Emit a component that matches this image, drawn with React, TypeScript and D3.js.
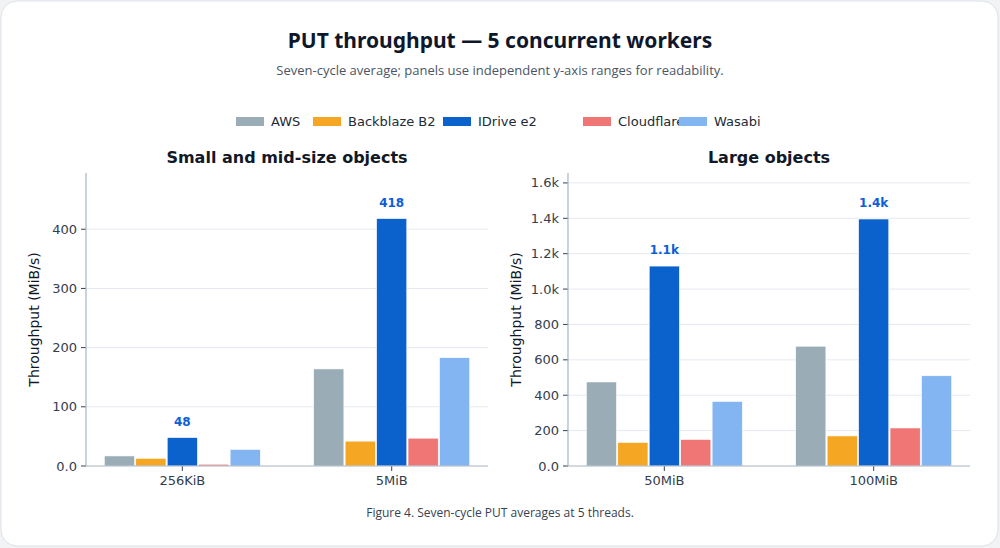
import React from 'react';
import * as d3 from 'd3';

const providers = ['AWS', 'Backblaze B2', 'IDrive e2', 'Cloudflare R2', 'Wasabi'];
const colors = ['#9aacb5', '#f5a623', '#0b62cc', '#f07575', '#83b5f2'];

const smallSizes = ['256KiB', '5MiB'];
const smallValues = [
  [17, 13, 48, 3, 28],
  [164, 42, 418, 47, 183],
];
const largeSizes = ['50MiB', '100MiB'];
const largeValues = [
  [475, 133, 1130, 150, 365],
  [677, 170, 1396, 215, 510],
];
const smallTicks = [0, 100, 200, 300, 400];
const largeTicks = [0, 200, 400, 600, 800, 1000, 1200, 1400, 1600];

const tickFont = 'DejaVu Sans, sans-serif';

function fmtK(v: number) {
  if (v === 0) return '0.0';
  return v >= 1000 ? (v / 1000).toFixed(1) + 'k' : String(v);
}

interface PanelProps {
  title: string;
  sizes: string[];
  values: number[][];
  ticks: number[];
  yMax: number;
  x0: number;
  labelFmt: (v: number) => string;
}

const Panel: React.FC<PanelProps> = ({ title, sizes, values, ticks, yMax, x0, labelFmt }) => {
  const left = x0, right = x0 + 402, top = 173, bottom = 466;
  const y = d3.scaleLinear().domain([0, yMax]).range([bottom, top]);
  const x = d3.scalePoint<string>().domain(sizes).range([left, right]).padding(0.46);
  const inner = d3.scaleBand<number>().domain(d3.range(providers.length)).range([-78, 78]).paddingInner(0.04);
  return (
    <g>
      <text x={(left + right) / 2} y={163} textAnchor="middle" fontFamily={tickFont} fontWeight="bold" fontSize={16} fill="#111827">{title}</text>
      {ticks.map(t => (
        <g key={t}>
          {t > 0 && <line x1={left} x2={right} y1={y(t)} y2={y(t)} stroke="#e5e9ef" strokeWidth={1} />}
          <line x1={left - 5} x2={left} y1={y(t)} y2={y(t)} stroke="#334155" />
          <text x={left - 9} y={y(t)} dy="0.35em" textAnchor="end" fontFamily={tickFont} fontSize={13} fill="#333d4d">{fmtK(t)}</text>
        </g>
      ))}
      <text transform={`translate(${left - 47},${(top + bottom) / 2}) rotate(-90)`} textAnchor="middle" fontFamily={tickFont} fontSize={14} fill="#111827">Throughput (MiB/s)</text>
      {sizes.map((s, gi) => (
        <g key={s}>
          {values[gi].map((v, i) => (
            <rect key={i} x={(x(s) as number) + (inner(i) as number)} y={y(v)} width={inner.bandwidth()} height={bottom - y(v)} fill={colors[i]} stroke="#ffffff" strokeWidth={0.6} />
          ))}
          <text x={(x(s) as number) + (inner(2) as number) + inner.bandwidth() / 2} y={y(values[gi][2]) - 12} textAnchor="middle" fontFamily={tickFont} fontWeight="bold" fontSize={12} fill="#0b5ed7">{labelFmt(values[gi][2])}</text>
          <line x1={x(s)} x2={x(s)} y1={bottom} y2={bottom + 5} stroke="#334155" />
          <text x={x(s)} y={bottom + 19} textAnchor="middle" fontFamily={tickFont} fontSize={13} fill="#333d4d">{s}</text>
        </g>
      ))}
      <line x1={left} x2={left} y1={top} y2={bottom} stroke="#a6b4c4" strokeWidth={1.2} />
      <line x1={left} x2={right} y1={bottom} y2={bottom} stroke="#a6b4c4" strokeWidth={1.2} />
    </g>
  );
};

const legendX = [236, 313, 443, 583, 679];

export default function App() {
  return (
    <svg width={1000} height={548} style={{ position: 'absolute', left: 0, top: 0, background: '#f1f3f5' }}>
      <rect x={1} y={1} width={997} height={545} rx={16} fill="#ffffff" stroke="#dde2e8" />
      <text x={500} y={48} textAnchor="middle" fontFamily="Noto Sans, sans-serif" fontWeight="bold" fontSize={21} fill="#0f172a">PUT throughput — 5 concurrent workers</text>
      <text x={500} y={75} textAnchor="middle" fontFamily="Open Sans, sans-serif" fontSize={13} fill="#4b5563">Seven-cycle average; panels use independent y-axis ranges for readability.</text>
      {providers.map((p, i) => (
        <g key={p}>
          <rect x={legendX[i]} y={117} width={28} height={9} fill={colors[i]} />
          <text x={legendX[i] + 35} y={121.5} dy="0.35em" fontFamily={tickFont} fontSize={13} fill="#222b38">{p}</text>
        </g>
      ))}
      <Panel title="Small and mid-size objects" sizes={smallSizes} values={smallValues} ticks={smallTicks} yMax={495} x0={86} labelFmt={v => String(v)} />
      <Panel title="Large objects" sizes={largeSizes} values={largeValues} ticks={largeTicks} yMax={1656} x0={568} labelFmt={v => (v / 1000).toFixed(1) + 'k'} />
      <text x={500} y={517} textAnchor="middle" fontFamily="Open Sans, sans-serif" fontSize={12} fill="#374151">Figure 4. Seven-cycle PUT averages at 5 threads.</text>
    </svg>
  );
}
